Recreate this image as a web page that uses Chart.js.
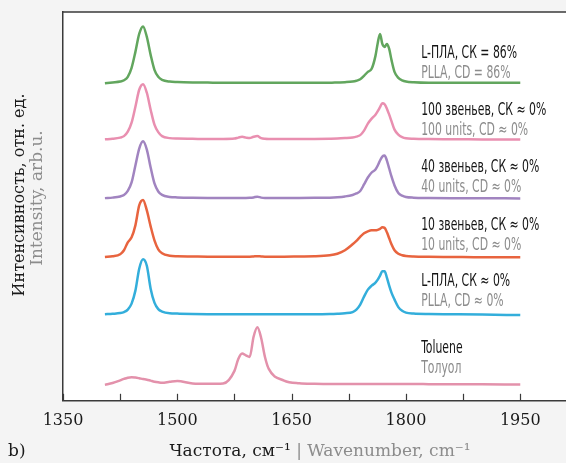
<!DOCTYPE html>
<html>
<head>
<meta charset="utf-8">
<script src="https://cdn.jsdelivr.net/npm/chart.js@4.4.1/dist/chart.umd.min.js"></script>
<style>
  html, body { margin: 0; padding: 0; background: #f4f4f4; }
  #wrap { width: 566px; height: 463px; position: relative; }
</style>
</head>
<body>
<div id="wrap"><canvas id="spectra"></canvas></div>
<script>
// wavenumber grid, cm-1
const wavenumbers = [
  1405, 1415, 1425, 1430, 1435, 1440, 1445, 1450, 1455, 1460,
  1465, 1470, 1475, 1480, 1490, 1500, 1520, 1540, 1560, 1575,
  1580, 1585, 1590, 1595, 1600, 1605, 1610, 1615, 1620, 1640,
  1660, 1680, 1700, 1710, 1720, 1730, 1735, 1740, 1745, 1750,
  1755, 1760, 1763, 1766, 1769, 1772, 1775, 1778, 1781, 1785,
  1790, 1795, 1800, 1810, 1830, 1860, 1900, 1950
];

// intensities above each trace's own baseline
const toluene = [
  0, 1.8, 4.5, 6, 7.2, 7.7, 7.3, 6.6, 5.8, 5.2,
  4.2, 3.2, 2.5, 2, 3, 3.8, 1.3, 1, 1.3, 14,
  26, 31.5, 29.5, 28, 48, 57.7, 47, 28, 16, 4.3,
  1.5, 1, 0.8, 0.8, 0.8, 0.8, 0.8, 0.8, 0.8, 0.8,
  0.8, 0.8, 0.8, 0.8, 0.8, 0.8, 0.8, 0.8, 0.8, 0.8,
  0.8, 0.8, 0.8, 0.8, 0.7, 0.6, 0.5, 0.3
];
const pllaAmorph = [
  0.3, 0.8, 1.5, 2.5, 5, 11, 24, 46, 55.5, 49,
  26, 12, 5.5, 3, 1.3, 1, 0.6, 0.4, 0.3, 0.3,
  0.3, 0.3, 0.3, 0.3, 0.3, 0.3, 0.3, 0.3, 0.3, 0.3,
  0.3, 0.3, 0.5, 0.8, 1.3, 2.5, 5, 10, 18, 25,
  29, 32, 35, 39, 43.5, 43.5, 37, 29, 22, 15,
  7.5, 3.8, 2, 1, 0.5, 0.3, 0, -0.5
];
const units10 = [
  0.3, 1, 3, 7, 15, 20, 32, 52, 57.5, 47,
  31, 17, 8, 4, 1.5, 1, 0.8, 0.6, 0.6, 0.6,
  0.6, 0.6, 0.6, 0.6, 0.8, 1, 0.8, 0.6, 0.6, 0.6,
  0.8, 1, 2, 3.5, 7, 13, 16.5, 20.5, 24, 26,
  27, 27, 27.5, 28.5, 30, 29.5, 25, 19, 13, 7,
  3.5, 2, 1.3, 0.8, 0.5, 0.3, 0, 0
];
const units40 = [
  0.3, 0.8, 2, 3.5, 7.5, 16, 33, 50, 57.3, 49,
  31, 15, 7, 3.5, 1.5, 1, 0.6, 0.5, 0.5, 0.5,
  0.5, 0.5, 0.5, 0.6, 1, 1.8, 0.8, 0.5, 0.5, 0.5,
  0.5, 0.6, 0.8, 1.2, 2, 3.5, 5, 7.5, 14, 21,
  26, 29, 33, 38, 42, 43, 38, 30, 22, 13,
  5.5, 2.8, 1.5, 0.8, 0.5, 0.3, 0.2, 0
];
const units100 = [
  0.3, 0.8, 2, 3.5, 8, 17, 33, 50, 55.6, 47,
  30, 15, 7.5, 3.5, 1.5, 1, 0.8, 0.6, 0.6, 1,
  2, 2.8, 2, 1.5, 2.8, 3.5, 1.5, 0.8, 0.6, 0.5,
  0.5, 0.6, 0.8, 1, 1.5, 2.2, 3, 4.5, 9, 16,
  21, 25, 28.5, 32.5, 36.5, 35.5, 31, 25, 18.5, 10,
  5, 2.5, 1.3, 0.8, 0.5, 0.4, 0.2, 0
];
const pllaCryst = [
  -0.5, 0.3, 1.2, 2.5, 6, 15, 31, 49, 56.5, 46,
  28, 13, 6, 3, 1.2, 0.8, 0.4, 0.2, 0, 0,
  0, 0, 0, 0, 0, 0, 0, 0, 0, 0,
  0, 0, 0, 0.3, 0.6, 1.2, 2, 3.5, 7, 11,
  14, 27, 40, 49, 39, 36, 39, 34, 23, 11,
  5, 2.5, 1.3, 0.5, 0, 0, 0, 0
];

// vertical shift of each trace (bottom to top)
const offsets = [16, 86.5, 144, 203, 262, 319];
const namesRu = ['Toluene', 'L-ПЛА, СК ≈ 0%', '10 звеньев, СК ≈ 0%', '40 звеньев, СК ≈ 0%', '100 звеньев, СК ≈ 0%', 'L-ПЛА, СК = 86%'];
const namesEn = ['Толуол', 'PLLA, CD ≈ 0%', '10 units, CD ≈ 0%', '40 units, CD ≈ 0%', '100 units, CD ≈ 0%', 'PLLA, CD = 86%'];

const tickValues = [1350, 1425, 1500, 1575, 1650, 1725, 1800, 1875, 1950];
const tickLabels = ['1350', '1500', '1650', '1800', '1950'];

const series = [toluene, pllaAmorph, units10, units40, units100, pllaCryst];
const colors = ['#e391ab', '#33aedb', '#e8643f', '#a184c0', '#e98fb0', '#62a65e'];

// caption anchors in data units
const labelX = 1820;
const labelY = [52.5, 119.5, 175.5, 233.5, 291.5, 348.5];

const serif = '"DejaVu Serif", "Liberation Serif", serif';
const narrow = '"Liberation Sans Narrow", "DejaVu Sans Condensed", "Roboto", sans-serif';

const framePlugin = {
  id: 'frame',
  beforeDraw(chart) {
    const { ctx, chartArea: a } = chart;
    ctx.save();
    ctx.fillStyle = '#ffffff';
    ctx.fillRect(a.left, a.top, a.right - a.left, a.bottom - a.top);
    ctx.restore();
  },
  afterDraw(chart) {
    const { ctx, chartArea: a, scales: { x, y } } = chart;
    ctx.save();

    // top edge of the plot box
    ctx.strokeStyle = '#3a3a3a';
    ctx.lineWidth = 1.5;
    ctx.beginPath();
    ctx.moveTo(a.left, a.top);
    ctx.lineTo(a.right, a.top);
    ctx.stroke();

    // tick marks pointing into the plot
    ctx.lineWidth = 1.2;
    tickValues.forEach(v => {
      const px = Math.round(x.getPixelForValue(v)) + 0.5;
      ctx.beginPath();
      ctx.moveTo(px, a.bottom);
      ctx.lineTo(px, a.bottom - 7);
      ctx.stroke();
    });

    // trace captions, squeezed to a condensed width
    ctx.textBaseline = 'middle';
    ctx.textAlign = 'left';
    ctx.font = '17px ' + narrow;
    const squeezed = (t, px, py, color) => {
      ctx.save();
      ctx.translate(px, py);
      ctx.scale(0.71, 1);
      ctx.fillStyle = color;
      ctx.fillText(t, 0, 0);
      ctx.restore();
    };
    namesRu.forEach((t, i) => {
      const px = x.getPixelForValue(labelX);
      squeezed(t, px, y.getPixelForValue(labelY[i]), '#151515');
      squeezed(namesEn[i], px, y.getPixelForValue(labelY[i] - 20), '#8c8c8c');
    });

    // y axis title, two languages
    ctx.textAlign = 'center';
    ctx.save();
    ctx.font = '16px ' + serif;
    ctx.translate(20, 195);
    ctx.rotate(-Math.PI / 2);
    ctx.fillStyle = '#1a1a1a';
    ctx.fillText('Интенсивность, отн. ед.', 0, 0);
    ctx.restore();
    ctx.save();
    ctx.font = '17px ' + serif;
    ctx.translate(38, 198);
    ctx.rotate(-Math.PI / 2);
    ctx.fillStyle = '#8c8c8c';
    ctx.fillText('Intensity, arb.u.', 0, 0);
    ctx.restore();

    // x axis title
    ctx.font = '17px ' + serif;
    const parts = [['Частота, см⁻¹', '#1a1a1a'], [' | ', '#8c8c8c'], ['Wavenumber, cm⁻¹', '#8c8c8c']];
    const total = parts.reduce((s, p) => s + ctx.measureText(p[0]).width, 0);
    let cx = 320 - total / 2;
    ctx.textAlign = 'left';
    parts.forEach(p => {
      ctx.fillStyle = p[1];
      ctx.fillText(p[0], cx, 452);
      cx += ctx.measureText(p[0]).width;
    });

    ctx.fillStyle = '#1a1a1a';
    ctx.fillText('b)', 8, 452);
    ctx.restore();
  }
};

new Chart(document.getElementById('spectra'), {
  type: 'line',
  data: {
    datasets: series.map((s, i) => ({
      data: wavenumbers.map((w, j) => ({ x: w, y: s[j] + offsets[i] })),
      borderColor: colors[i],
      borderWidth: 2.5,
      pointRadius: 0,
      fill: false,
      cubicInterpolationMode: 'monotone'
    }))
  },
  options: {
    responsive: true,
    maintainAspectRatio: false,
    animation: false,
    layout: { padding: { left: 63, top: 12, right: 0, bottom: 23 } },
    plugins: { legend: { display: false }, tooltip: { enabled: false } },
    scales: {
      x: {
        type: 'linear',
        min: 1350,
        max: 2010,
        afterBuildTicks: s => { s.ticks = tickValues.map(v => ({ value: v })); },
        ticks: {
          autoSkip: false,
          maxRotation: 0,
          padding: 10,
          color: '#1a1a1a',
          font: { family: serif, size: 16 },
          callback: v => tickLabels.includes(String(v)) ? String(v) : ''
        },
        grid: { display: false, drawTicks: false },
        border: { display: true, color: '#3a3a3a', width: 1.5 }
      },
      y: {
        min: 0,
        max: 390,
        ticks: { display: false },
        grid: { display: false, drawTicks: false },
        border: { display: true, color: '#3a3a3a', width: 1.5 }
      }
    }
  },
  plugins: [framePlugin]
});
</script>
</body>
</html>
